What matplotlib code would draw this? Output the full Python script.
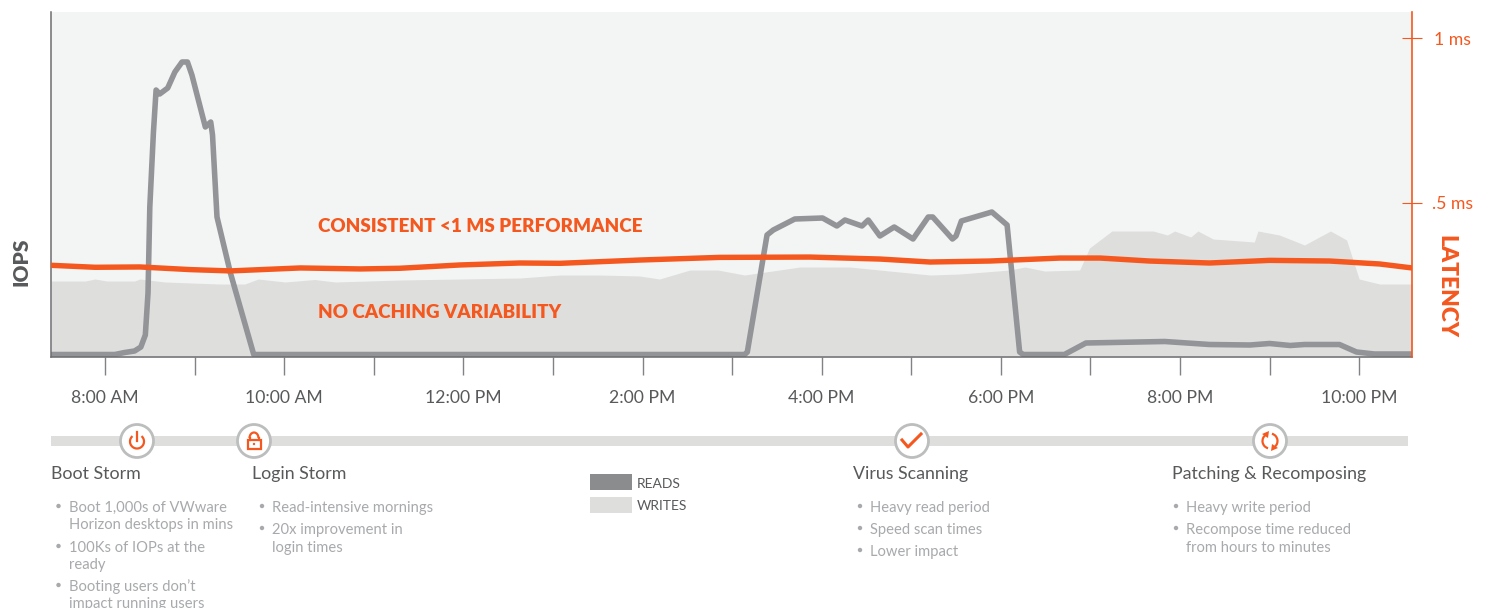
import matplotlib
matplotlib.use("Agg")
import matplotlib.pyplot as plt
from matplotlib.patches import Arc, Circle, Polygon, Rectangle

plt.rcParams['font.family'] = ['Lato', 'DejaVu Sans']

# time in hours of the day, reads/writes in relative IOPS, latency in ms
reads_time = [7.40, 8.11, 8.22, 8.33, 8.40, 8.45, 8.48, 8.50, 8.54, 8.57, 8.61, 8.70, 8.78, 8.86,
              8.92, 8.97, 9.12, 9.18, 9.20, 9.25, 9.40, 9.66, 15.14, 15.17, 15.39, 15.46, 15.70,
              16.01, 16.17, 16.26, 16.45, 16.52, 16.65, 16.81, 17.02, 17.19, 17.24, 17.46, 17.50,
              17.56, 17.90, 18.07, 18.21, 18.25, 18.71, 18.95, 19.83, 20.33, 20.78, 21.00, 21.23,
              21.39, 21.78, 21.97, 22.17, 22.59]
reads_iops = [2.5, 2.5, 4.5, 6, 10, 22, 64, 150, 224, 267, 263, 269, 285, 295,
              295, 282, 230, 235, 222, 140, 84, 2.5, 2.5, 5, 122, 127, 138,
              139, 131, 137, 131, 137, 121, 130, 118, 140, 140, 118, 121,
              136, 145, 132, 5, 2.5, 2.5, 14, 15.5, 12.5, 12, 13.5, 11.5,
              12.5, 12.5, 5, 3, 3]

writes_time = [7.40, 7.78, 7.89, 8.02, 8.33, 8.39, 8.67, 9.28, 9.56, 9.71, 10.01, 10.34, 10.57,
               11.29, 12.63, 13.08, 13.52, 13.97, 14.19, 14.53, 14.84, 15.14, 15.76, 16.31, 17.21,
               17.54, 18.10, 18.27, 18.49, 18.88, 18.99, 19.24, 19.70, 19.86, 19.94, 20.12, 20.20,
               20.37, 20.83, 20.87, 21.11, 21.39, 21.68, 21.86, 22.00, 22.23, 22.59]
writes_iops = [76, 76, 78, 76, 76, 78, 75, 73, 73, 78, 75, 77.5, 75,
               77, 79, 82, 82, 81, 78, 87, 87, 82, 90, 90, 82,
               83, 87, 90, 86, 87, 109, 126, 126, 122, 126, 120, 126,
               118, 115, 126, 122, 112, 126, 117, 78, 73, 73]

latency_time = [7.40, 7.89, 8.39, 8.95, 9.40, 10.18, 10.85, 11.29, 11.96, 12.63, 13.08, 13.97, 14.86,
                15.87, 16.65, 17.21, 17.88, 18.66, 19.11, 19.66, 20.33, 21.00, 21.67, 22.23, 22.59]
latency_ms = [.311, .305, .306, .298, .294, .303, .300, .302, .312, .318, .317, .327, .335,
              .336, .330, .321, .324, .333, .333, .324, .318, .326, .324, .315, .303]

hour_ticks = list(range(8, 23))
hour_labels = ["8:00 AM", "", "10:00 AM", "", "12:00 PM", "", "2:00 PM", "", "4:00 PM", "",
               "6:00 PM", "", "8:00 PM", "", "10:00 PM"]
latency_ticks = [.5, 1]
latency_labels = [".5 ms", "1 ms"]

orange = "#f4581f"
grey_line = "#929497"
grey_area = "#dededd"
grey_text = "#58595b"
grey_soft = "#a7a9ac"

W, H = 1488, 608
fig = plt.figure(figsize=(W / 100, H / 100), dpi=100)
fig.patch.set_facecolor("white")

# main plot
ax = fig.add_axes([51 / W, (H - 357) / H, 1361 / W, 345 / H])
ax.set_facecolor("#f3f5f4")
ax.fill_between(writes_time, writes_iops, 0, color=grey_area, linewidth=0)
ax.plot(reads_time, reads_iops, color=grey_line, linewidth=4.0, solid_joinstyle="round")
ax.set_xlim(7.397, 22.59)
ax.set_ylim(0, 345)
ax.set_yticks([])
ax.set_xticks(hour_ticks)
ax.set_xticklabels(hour_labels, fontsize=12.7, color=grey_text)
ax.tick_params(axis="x", length=13, width=1, color="#808285", pad=11)
for side in ["top", "right"]:
    ax.spines[side].set_visible(False)
for side in ["left", "bottom"]:
    ax.spines[side].set_color("#6d6e71")
    ax.spines[side].set_linewidth(1.1)

# latency on its own axis
ax2 = ax.twinx()
ax2.plot(latency_time, latency_ms, color=orange, linewidth=3.9)
ax2.set_ylim(0.033, 1.079)
ax2.set_yticks(latency_ticks)
ax2.set_yticklabels(latency_labels, fontsize=12.7, color=orange, ha="center")
ax2.tick_params(axis="y", direction="inout", length=14.4, width=0.8, color=orange, pad=22)
for side in ["top", "left", "bottom"]:
    ax2.spines[side].set_visible(False)
ax2.spines["right"].set_color(orange)
ax2.spines["right"].set_linewidth(1.2)

# overlay in pixel units for the notes under the plot
ov = fig.add_axes([0, 0, 1, 1])
ov.set_xlim(0, W)
ov.set_ylim(H, 0)
ov.axis("off")
ov.patch.set_alpha(0)

ov.text(21, 262, "IOPS", rotation=90, fontsize=15, fontweight="heavy", color=grey_text, ha="center", va="center")
ov.text(1446, 287, "LATENCY", rotation=270, fontsize=16.4, fontweight="heavy", color=orange, ha="center", va="center")
ov.text(318, 226, "CONSISTENT <1 MS PERFORMANCE", fontsize=13.6, fontweight="heavy", color=orange, va="center")
ov.text(318, 312, "NO CACHING VARIABILITY", fontsize=13.6, fontweight="heavy", color=orange, va="center")

# timeline
ov.add_patch(Rectangle((51, 436), 1357, 9.5, color=grey_area, linewidth=0))
for cx in [137, 254, 912, 1270]:
    ov.add_patch(Circle((cx, 441), 16.5, facecolor="white", edgecolor="#bcbdbd", linewidth=2))

lw_icon = 1.6
# power
ov.add_patch(Arc((137, 441.5), 14, 14, theta1=-50, theta2=230, color=orange, linewidth=lw_icon))
ov.plot([137, 137], [432, 441], color=orange, linewidth=lw_icon)
# lock
ov.add_patch(Rectangle((247.5, 440), 13, 9, fill=False, edgecolor=orange, linewidth=lw_icon))
ov.add_patch(Arc((254, 438), 9, 11, theta1=180, theta2=360, color=orange, linewidth=lw_icon))
ov.plot([249.5, 249.5], [438, 440], color=orange, linewidth=lw_icon)
ov.plot([258.5, 258.5], [438, 440], color=orange, linewidth=lw_icon)
ov.add_patch(Circle((254, 444), 1.2, color=orange, linewidth=0))
# check
ov.plot([902, 908, 921], [440, 447, 434], color=orange, linewidth=2.2)
# refresh
ov.add_patch(Arc((1270, 441), 15, 15, theta1=105, theta2=235, color=orange, linewidth=lw_icon))
ov.add_patch(Arc((1270, 441), 15, 15, theta1=285, theta2=415, color=orange, linewidth=lw_icon))
ov.add_patch(Polygon([(1262, 434), (1269, 431), (1268, 438)], color=orange, linewidth=0, closed=True))
ov.add_patch(Polygon([(1278, 448), (1271, 451), (1272, 444)], color=orange, linewidth=0, closed=True))

# legend
ov.add_patch(Rectangle((590, 474), 42, 16, color="#8a8c8e", linewidth=0))
ov.add_patch(Rectangle((590, 497), 42, 16, color=grey_area, linewidth=0))
ov.text(637, 484, "READS", fontsize=10, color=grey_text, va="center")
ov.text(637, 506, "WRITES", fontsize=10, color=grey_text, va="center")

# notes: title, x of title, x of bullet dot, x of text, then (has dot, y, line)
boot_lines = [(True, 508, "Boot 1,000s of VWware"), (False, 525, "Horizon desktops in mins"),
              (True, 548, "100Ks of IOPs at the"), (False, 565, "ready"),
              (True, 587, "Booting users don’t"), (False, 604, "impact running users")]
login_lines = [(True, 508, "Read-intensive mornings"), (True, 530, "20x improvement in"), (False, 548, "login times")]
virus_lines = [(True, 508, "Heavy read period"), (True, 530, "Speed scan times"), (True, 552, "Lower impact")]
patch_lines = [(True, 508, "Heavy write period"), (True, 530, "Recompose time reduced"), (False, 548, "from hours to minutes")]

notes = [("Boot Storm", 51, 58.5, 69, boot_lines),
         ("Login Storm", 252, 262, 272, login_lines),
         ("Virus Scanning", 853, 860, 870, virus_lines),
         ("Patching & Recomposing", 1172, 1176, 1186, patch_lines)]

for title, x_title, x_dot, x_text, lines in notes:
    ov.text(x_title, 474, title, fontsize=12.8, color=grey_text, va="center")
    for has_dot, y, line in lines:
        if has_dot:
            ov.add_patch(Circle((x_dot, y - 2), 2.2, color=grey_soft, linewidth=0))
        ov.text(x_text, y, line, fontsize=10.6, color=grey_soft, va="center")

fig.savefig("out.png", dpi=100)
